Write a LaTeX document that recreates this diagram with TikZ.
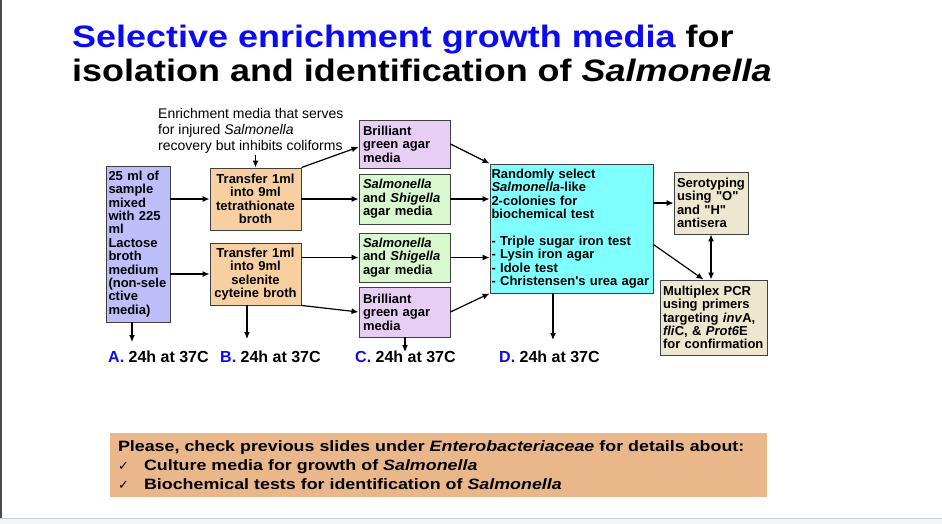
\documentclass[tikz,border=0pt]{standalone}
\usepackage{fontspec}
\setmainfont{Liberation Sans}[Ligatures=TeXOff]
\newfontfamily\symfont{DejaVu Sans}
\newfontfamily\titlefont{Liberation Sans}[FakeStretch=1.16]
\newfontfamily\widefont{Liberation Sans}[FakeStretch=1.19]
\usepackage{xcolor}
\usetikzlibrary{arrows.meta,positioning}
\definecolor{titleblue}{RGB}{10,10,245}
\definecolor{mixblue}{RGB}{190,190,250}
\definecolor{broth}{RGB}{247,207,160}
\definecolor{bgagar}{RGB}{230,206,245}
\definecolor{ssagar}{RGB}{216,248,208}
\definecolor{biochem}{RGB}{128,255,255}
\definecolor{confirm}{RGB}{237,231,208}
\definecolor{notefill}{RGB}{234,183,139}
\definecolor{slideline}{RGB}{196,204,224}

\begin{document}
\begin{tikzpicture}[x=1pt, y=-1pt,
  box/.style={rectangle, draw=black!75, line width=0.9pt, inner xsep=3pt, inner ysep=0pt,
              font={\fontsize{13}{13.4}\selectfont\bfseries}},
  title/.style={inner sep=0pt, font={\titlefont\fontsize{31}{36}\selectfont\bfseries}},
  lbl/.style={inner sep=1pt, font={\fontsize{16}{18}\selectfont\bfseries}},
  arr/.style={-{Latex[length=7pt,width=6pt]}, line width=1.2pt, draw=black}
]
\useasboundingbox (0,0) rectangle (942,524);
% slide frame
\fill[black!4] (0,518.5) rectangle (942,524);
\draw[slideline, line width=1pt] (0,518) -- (942,518);
\draw[black!70, line width=1.5pt] (1,0) -- (1,518);

\node[title, anchor=base west] (title1) at (72,48) {\textcolor{titleblue}{Selective enrichment growth media} for};
\node[title, anchor=base west] (title2) at (72,82) {isolation and identification of \textit{Salmonella}};

\node[anchor=west, inner sep=1pt, align=left, font={\fontsize{14}{16}\selectfont}] (note) at (157,131)
  {Enrichment media that serves\\for injured \textit{Salmonella}\\recovery but inhibits coliforms};

\node[box, fill=mixblue, text width=59pt, inner xsep=2.5pt, minimum height=156pt, align=left] (mix) at (138,244)
  {25 ml of\\sample\\mixed\\with 225\\ml\\Lactose\\broth\\medium\\(non-sele\\ctive\\media)};
\node[box, fill=broth, text width=85pt, minimum height=62pt, align=center] (tetra) at (255.5,199)
  {Transfer 1ml\\into 9ml\\tetrathionate\\broth};
\node[box, fill=broth, text width=85pt, minimum height=62pt, align=center] (selen) at (255.5,274)
  {Transfer 1ml\\into 9ml\\selenite\\cyteine broth};

\node[box, fill=bgagar, text width=83pt, inner xsep=4pt, minimum height=48pt, align=left] (bg1) at (404.5,144)
  {Brilliant\\green agar\\media};
\node[box, fill=ssagar, text width=83pt, inner xsep=4pt, minimum height=50pt, align=left] (ss1) at (404.5,199)
  {\textit{Salmonella}\\and \textit{Shigella}\\agar media};
\node[box, fill=ssagar, text width=83pt, inner xsep=4pt, minimum height=49pt, align=left] (ss2) at (404.5,257.5)
  {\textit{Salmonella}\\and \textit{Shigella}\\agar media};
\node[box, fill=bgagar, text width=83pt, inner xsep=4pt, minimum height=50pt, align=left] (bg2) at (404.5,312)
  {Brilliant\\green agar\\media};

\node[box, fill=biochem, text width=160pt, inner xsep=1.5pt, minimum height=129pt, align=left] (biochem) at (571.5,228.5)
  {Randomly select\\\textit{Salmonella}-like\\2-colonies for\\biochemical test\\[13.4pt]- Triple sugar iron test\\- Lysin iron agar\\- Idole test\\- Christensen's urea agar};
\node[box, fill=confirm, text width=68pt, minimum height=62pt, align=left] (sero) at (711,203)
  {Serotyping\\using "O"\\and "H"\\antisera};
\node[box, fill=confirm, text width=101pt, minimum height=75pt, align=left] (pcr) at (713.5,317.5)
  {Multiplex PCR\\using primers\\targeting \textit{inv}A,\\\textit{fli}C, \& \textit{Prot6}E\\for confirmation};

\node[lbl, anchor=west] (lblA) at (107,357) {\textcolor{titleblue}{A.} 24h at 37C};
\node[lbl, anchor=west] (lblB) at (219,357) {\textcolor{titleblue}{B.} 24h at 37C};
\node[lbl, anchor=west] (lblC) at (354,357) {\textcolor{titleblue}{C.} 24h at 37C};
\node[lbl, anchor=west] (lblD) at (498,357) {\textcolor{titleblue}{D.} 24h at 37C};

\node[fill=notefill, text width=641pt, inner xsep=8pt, minimum height=64pt, align=left,
      font={\widefont\fontsize{15}{19}\selectfont\bfseries}] (details) at (438.5,465)
  {Please, check previous slides under \textit{Enterobacteriaceae} for details about:\\
   \makebox[26pt][l]{\symfont\mdseries\fontsize{13}{19}\selectfont ✓}Culture media for growth of \textit{Salmonella}\\
   \makebox[26pt][l]{\symfont\mdseries\fontsize{13}{19}\selectfont ✓}Biochemical tests for identification of \textit{Salmonella}};

\coordinate (endA) at (132,342);
\coordinate (endB) at (247,339);
\coordinate (endC) at (405,352);
\coordinate (endD) at (553,340);

\draw[arr] (tetra.north |- note.south) -- (tetra.north);
\draw[arr] (mix.east |- tetra) -- (tetra.west);
\draw[arr] (mix.east |- selen) -- (selen.west);
\draw[arr] (tetra.north east) -- ([yshift=-3pt]bg1.west);
\draw[arr] (tetra.east) -- (ss1.west);
\draw[arr] (selen.east |- ss2) -- (ss2.west);
\draw[arr] (selen.south east) -- (bg2.west);
\draw[arr] (bg1.east) -- (biochem.north west);
\draw[arr] (ss1.east) -- (ss1.east -| biochem.west);
\draw[arr] (ss2.east) -- (ss2.east -| biochem.west);
\draw[arr] (bg2.east) -- (biochem.south west);
\draw[arr] (biochem.east |- sero) -- (sero.west);
\draw[arr] ([yshift=-16pt]biochem.east) -- ([xshift=-10pt]pcr.north);
\draw[{Latex[length=7pt,width=6pt]}-{Latex[length=7pt,width=6pt]}, line width=1.2pt] (sero.south) -- (sero.south |- pcr.north);
\draw[arr] (mix.south -| endA) -- (endA);
\draw[arr] (selen.south -| endB) -- (endB);
\draw[arr] (bg2.south -| endC) -- (endC);
\draw[arr] (biochem.south -| endD) -- (endD);
\end{tikzpicture}
\end{document}
